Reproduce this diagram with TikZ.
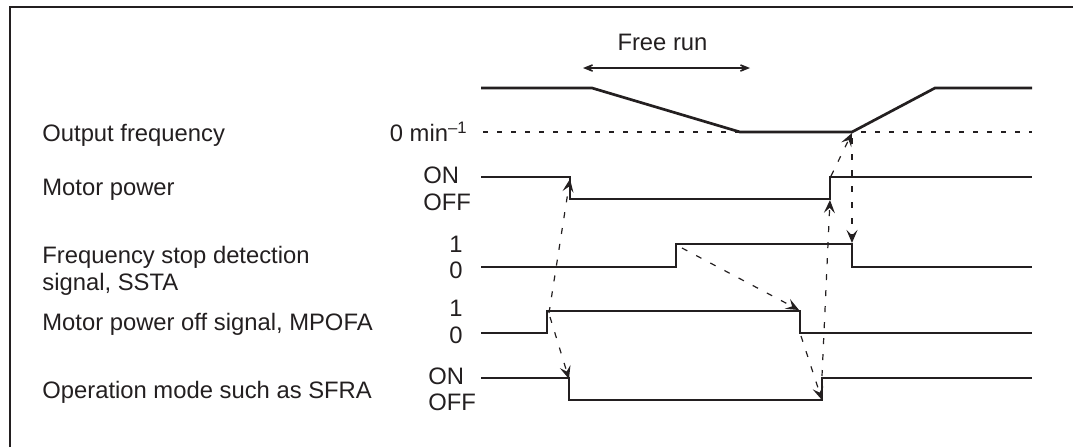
\documentclass[tikz,border=0pt]{standalone}
\usepackage{fontspec}
\setmainfont{Liberation Sans}
\usetikzlibrary{arrows.meta}
\definecolor{ink}{RGB}{35,31,32}
\begin{document}
\begin{tikzpicture}[x=0.5pt,y=-0.5pt,
  lbl/.style={inner sep=0pt,font=\fontsize{11.9}{14}\selectfont,text=ink},
  sig/.style={draw=ink,line width=1.35pt,line join=miter},
  frame/.style={draw=ink,line width=1pt},
  zeroline/.style={draw=ink,line width=0.6pt,dash pattern=on 2.7pt off 4.3pt},
  cause/.style={draw=ink,line width=0.6pt,dash pattern=on 3pt off 5pt,
    -{Stealth[length=6.5pt,width=5.5pt,inset=2.6pt]}},
  span/.style={draw=ink,line width=0.7pt,
    {Stealth[length=8pt,width=6.5pt,inset=5pt]}-{Stealth[length=8pt,width=6.5pt,inset=5pt]}}
]
\useasboundingbox (0,0) rectangle (1073,447);
\draw[frame] (10,447) -- (10,7) -- (1073,7);

% left labels
\node[lbl,anchor=base west] (tof) at (42,141.7) {Output frequency};
\node[lbl,anchor=base west] (tmp) at (42,195) {Motor power};
\node[lbl,anchor=base west] (tss1) at (42,263.3) {Frequency stop detection};
\node[lbl,anchor=base west] (tss2) at (42,290) {signal, SSTA};
\node[lbl,anchor=base west] (tmo) at (42,330.7) {Motor power off signal, MPOFA};
\node[lbl,anchor=base west] (top) at (42,398.3) {Operation mode such as SFRA};

% level labels
\node[lbl,anchor=base east] (lzero) at (468,141.7) {0 min\textsuperscript{–1}};
\node[lbl,anchor=base west] (lmpon) at (423,183.3) {ON};
\node[lbl,anchor=base west] (lmpoff) at (423,210) {OFF};
\node[lbl,anchor=base] (lss1) at (456,252.7) {1};
\node[lbl,anchor=base] (lss0) at (456,278.3) {0};
\node[lbl,anchor=base] (lmo1) at (456,316) {1};
\node[lbl,anchor=base] (lmo0) at (456,343.3) {0};
\node[lbl,anchor=base west] (lopon) at (428,384.3) {ON};
\node[lbl,anchor=base west] (lopoff) at (428,410.7) {OFF};

% free run
\node[lbl,anchor=base] (tfree) at (662.5,50.7) {Free run};
\coordinate (fra) at (583,68);
\coordinate (frb) at (750,68);
\draw[span] (fra) -- (frb);

% zero line
\coordinate (z0) at (483,132);
\coordinate (z1) at (1032,132);
\draw[zeroline] (z0) -- (z1);

% key points
\coordinate (ofstop) at (852,132);
\coordinate (mpfallT) at (570,177);
\coordinate (mpriseB) at (830,199);
\coordinate (mpriseT) at (830,177);
\coordinate (ssriseT) at (676,244);
\coordinate (ssfallT) at (852,244);
\coordinate (moriseT) at (547,311);
\coordinate (mofallT) at (800,311);
\coordinate (mofallB) at (800,333);
\coordinate (opfallT) at (569,378);
\coordinate (opriseB) at (822,400);
\coordinate (opriseT) at (822,378);

% signals
\draw[sig] (481,88) -- (592,88) -- (740,132) -- (ofstop) -- (935,88) -- (1032,88);
\draw[sig] (481,177) -- (mpfallT) -- (570,199) -- (mpriseB) -- (mpriseT) -- (1032,177);
\draw[sig] (481,267) -- (676,267) -- (ssriseT) -- (ssfallT) -- (852,267) -- (1032,267);
\draw[sig] (481,333) -- (547,333) -- (moriseT) -- (mofallT) -- (mofallB) -- (1032,333);
\draw[sig] (481,378) -- (opfallT) -- (569,400) -- (opriseB) -- (opriseT) -- (1032,378);

% cause-effect connectors
\draw[cause] ([xshift=1pt,yshift=-1pt]moriseT) -- ([yshift=-1pt]mpfallT);
\draw[cause] ([xshift=1.5pt,yshift=-3pt]moriseT) -- ([yshift=-0.5pt]opfallT);
\draw[cause] ([xshift=3pt,yshift=-2pt]ssriseT) -- ([xshift=-0.5pt,yshift=0.5pt]mofallT);
\draw[cause] ([xshift=0.5pt,yshift=-1.5pt]mofallB) -- (opriseB);
\draw[cause] ([yshift=1pt]opriseT) -- ([yshift=-0.5pt]mpriseB);
\draw[cause] ([xshift=0.5pt,yshift=0.5pt]mpriseT) -- ([yshift=-0.5pt]ofstop);
\draw[cause] ([yshift=-3pt]ofstop) -- ([yshift=0.5pt]ssfallT);
\end{tikzpicture}
\end{document}
